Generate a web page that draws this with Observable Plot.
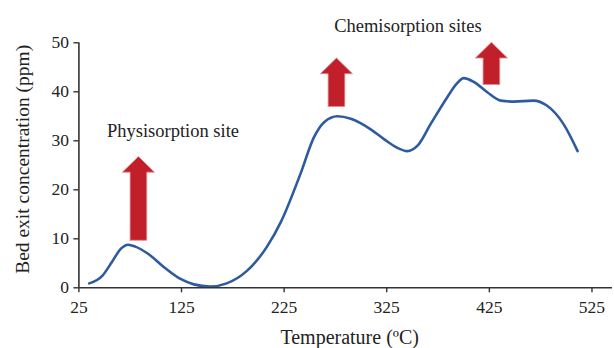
<!DOCTYPE html>
<html>
<head>
<meta charset="utf-8">
<script src="https://cdn.jsdelivr.net/npm/d3@7"></script>
<script src="https://cdn.jsdelivr.net/npm/@observablehq/plot@0.6"></script>
<style>
  html, body { margin: 0; padding: 0; background: #fff; }
  #chart svg { display: block; }
</style>
</head>
<body>
<div id="chart"></div>
<script>
// Curve: temperature (ºC) and bed exit concentration (ppm)
const temperature = [35, 48, 57, 66, 73, 80, 92, 108, 124, 137, 153, 169, 189, 208, 222, 241, 254, 264, 277, 290, 309, 322, 335, 345, 355, 368, 384, 393, 400, 410, 423, 436, 449, 468, 481, 497, 511];
const concentration = [0.9, 2.5, 5.2, 8.0, 8.8, 8.4, 7.0, 4.2, 1.8, 0.7, 0.25, 0.9, 3.5, 8.3, 13.5, 23.3, 30.7, 33.8, 35.0, 34.5, 32.4, 30.4, 28.6, 27.9, 29.0, 33.5, 38.9, 41.6, 42.8, 42.0, 39.9, 38.2, 38.0, 38.2, 37.2, 33.5, 27.9];

// Tick labels
const xTicks = [25, 125, 225, 325, 425, 525];
const yTicks = [0, 10, 20, 30, 40, 50];

// Arrow annotations (data units)
const arrowX = [83, 276, 427];
const arrowFrom = [9.7, 37.0, 41.5];
const arrowTo = [26.8, 46.9, 50.1];

// Text annotations
const noteText = ["Physisorption site", "Chemisorption sites"];
const noteX = [116.7, 345.6];
const noteY = [32.0, 53.5];

const data = temperature.map((t, i) => ({t, c: concentration[i]}));
const notes = noteText.map((s, i) => ({s, x: noteX[i], y: noteY[i]}));

const hw = 8.1, HW = 15.6, hl = 3.2;
const arrowPts = [];
arrowX.forEach((x, i) => {
  const a = arrowFrom[i], b = arrowTo[i], h = b - hl;
  [[x - hw, a], [x - hw, h], [x - HW, h], [x, b], [x + HW, h], [x + hw, h], [x + hw, a], [x - hw, a]]
    .forEach(([px, py]) => arrowPts.push({k: i, x: px, y: py}));
});

const font = "'Liberation Serif', 'Times New Roman', serif";

const chart = Plot.plot({
  width: 614,
  height: 348,
  marginLeft: 78.4,
  marginRight: 2,
  marginTop: 42.3,
  marginBottom: 60.7,
  style: {fontFamily: font, background: "#fff", color: "#222"},
  x: {domain: [25, 545]},
  y: {domain: [0, 50]},
  marks: [
    Plot.line(arrowPts, {x: "x", y: "y", z: "k", fill: "#c1202a", stroke: "#de8a8e", strokeWidth: 0.8, curve: "linear"}),
    Plot.line(data, {x: "t", y: "c", curve: "monotone-x", stroke: "#2e5b9f", strokeWidth: 2.6}),
    Plot.ruleY([0], {x1: 25, x2: 545, stroke: "#333", strokeWidth: 1.6}),
    Plot.ruleX([25], {y1: 0, y2: 50, stroke: "#333", strokeWidth: 1.6}),
    Plot.axisX({ticks: xTicks, tickSize: 5, tickPadding: 8, fontSize: 17.5, label: null, stroke: "#333", strokeWidth: 1.4}),
    Plot.axisY({ticks: yTicks, tickSize: 5, tickPadding: 5, fontSize: 17.5, label: null, stroke: "#333", strokeWidth: 1.4}),
    Plot.text(notes, {x: "x", y: "y", text: "s", fontSize: 18.5, fill: "#222", textAnchor: "middle", lineAnchor: "middle", clip: false}),
    Plot.text(["Temperature (ºC)"], {frameAnchor: "bottom", dx: 4, dy: 50, fontSize: 20, fill: "#222", textAnchor: "middle", lineAnchor: "middle"}),
    Plot.text(["Bed exit concentration (ppm)"], {frameAnchor: "left", dx: -56.4, dy: -6, rotate: -90, fontSize: 19.5, fill: "#222", textAnchor: "middle", lineAnchor: "middle"})
  ]
});
document.getElementById("chart").appendChild(chart);
</script>
</body>
</html>
